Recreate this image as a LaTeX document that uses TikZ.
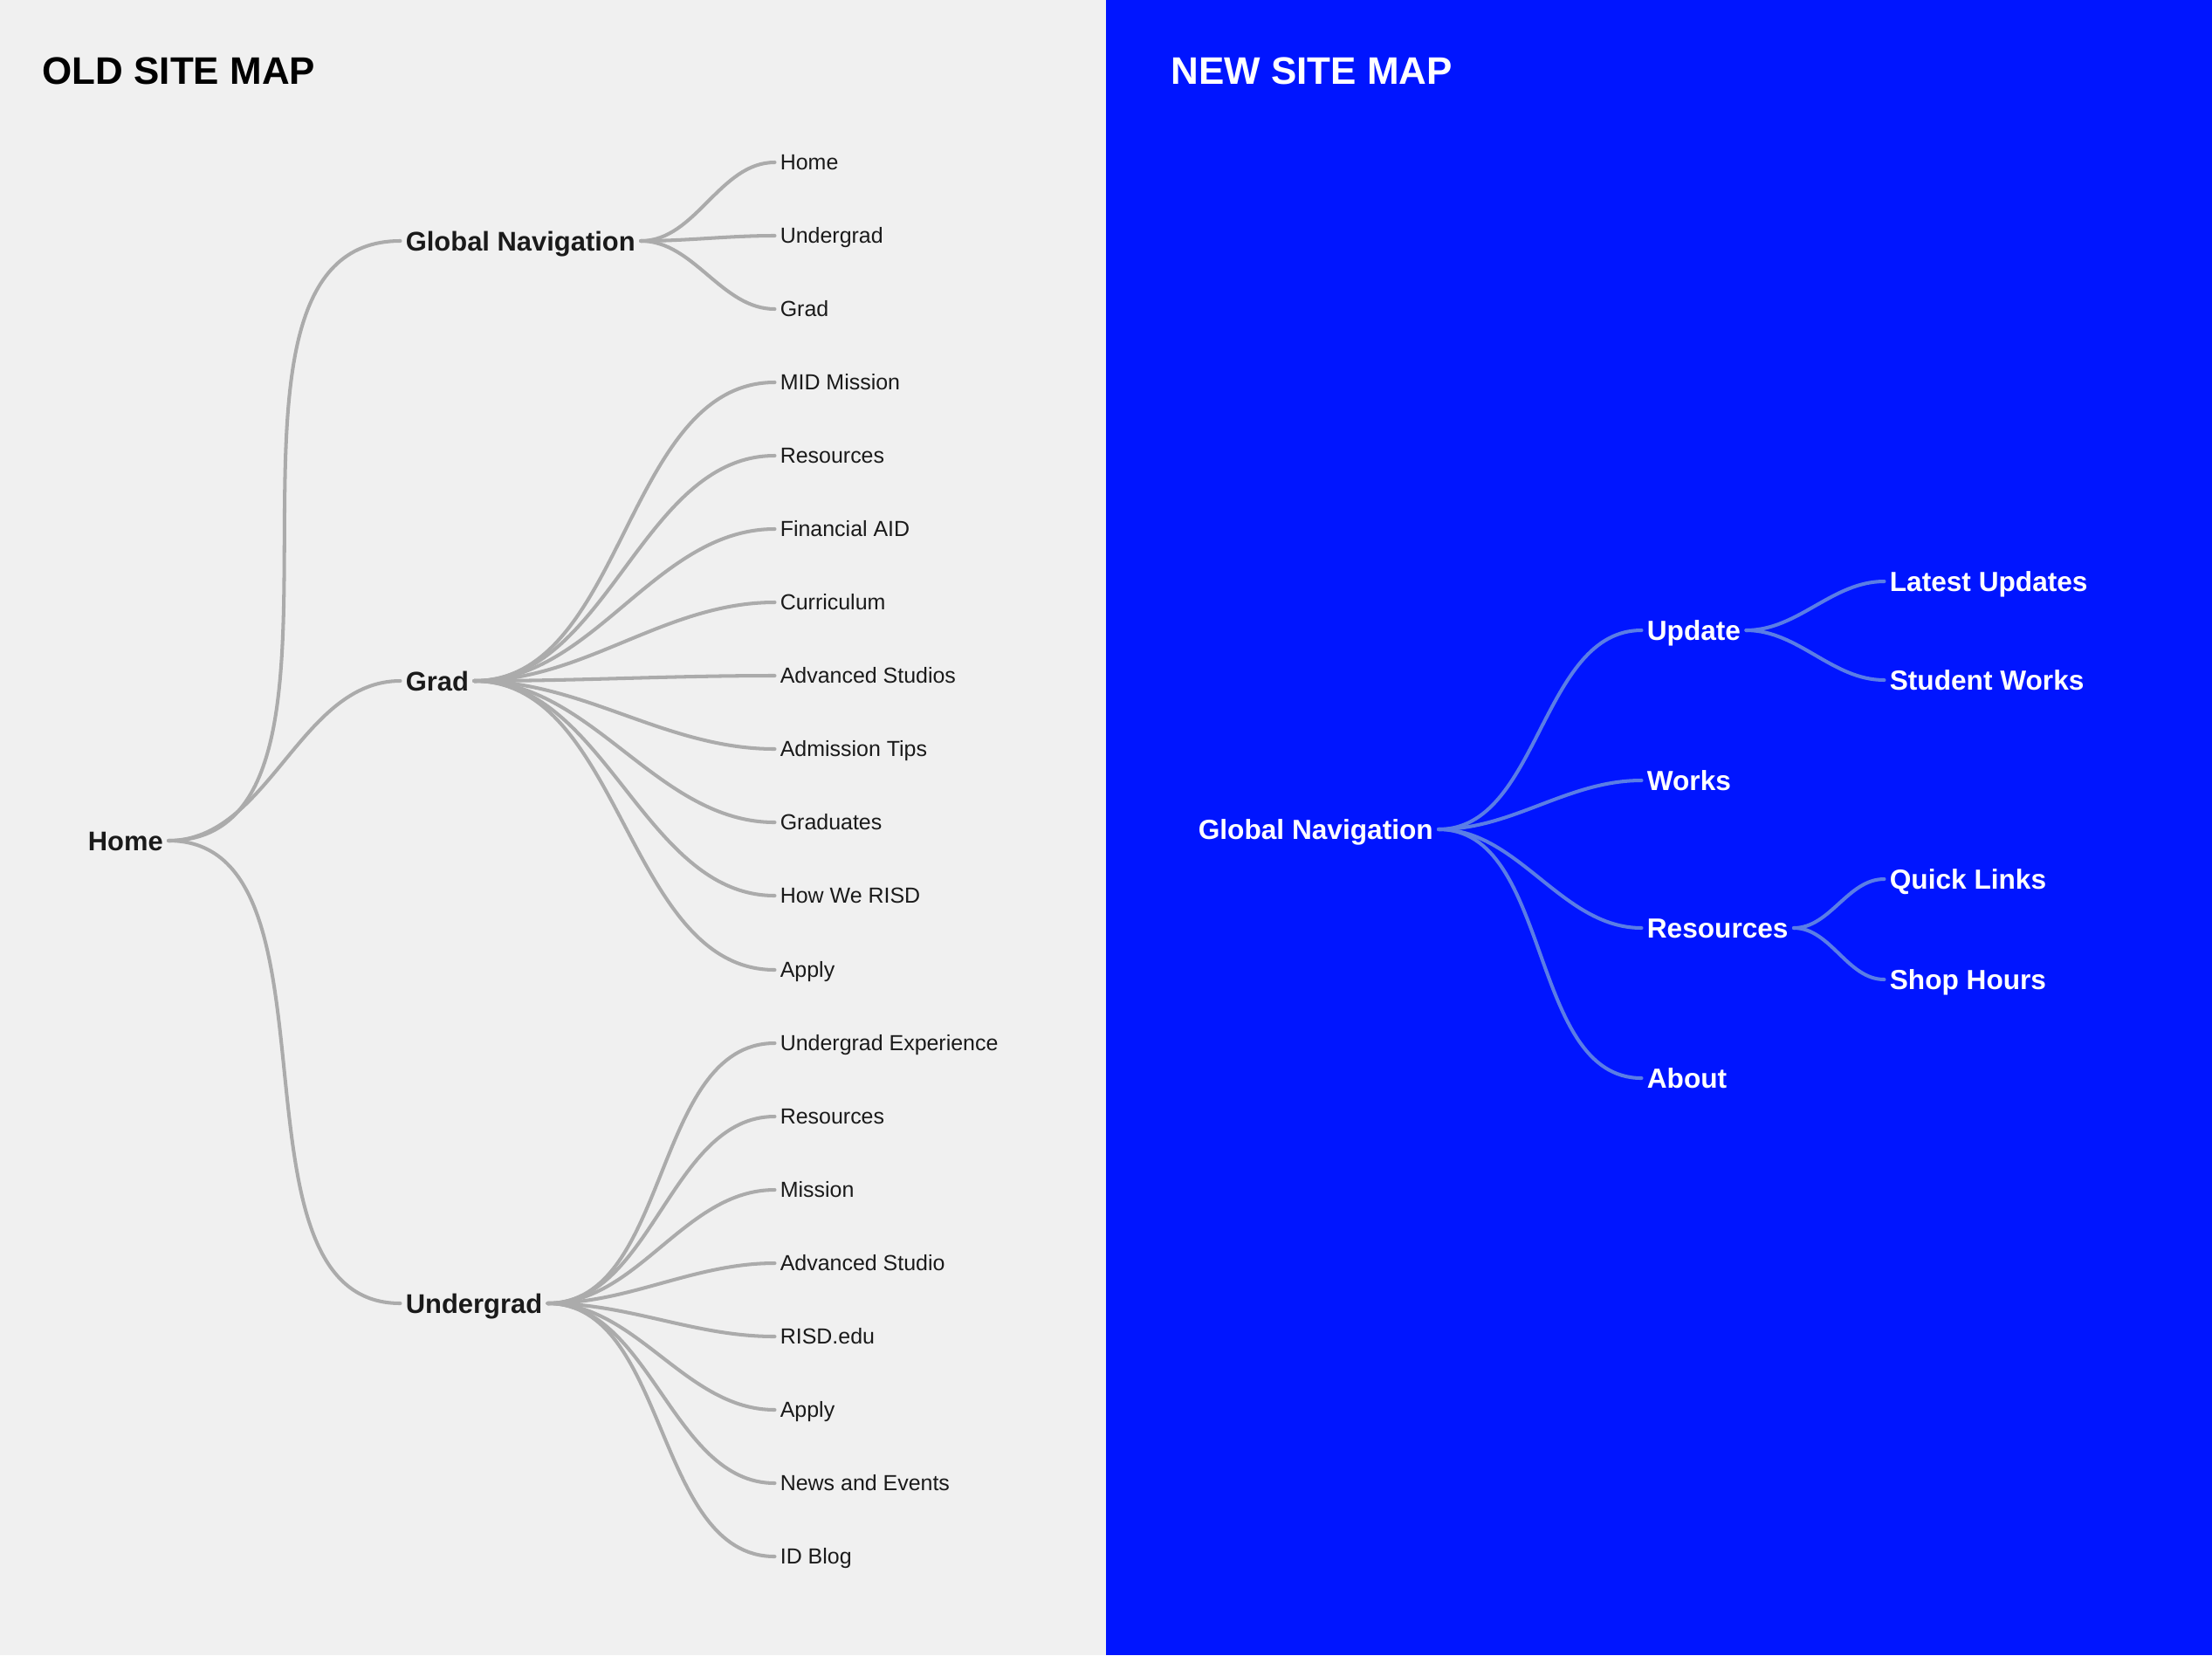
\documentclass[tikz,border=0pt]{standalone}
\usepackage{fontspec}
\setmainfont{Liberation Sans}

\definecolor{paper}{HTML}{F0F0F0}
\definecolor{ink}{HTML}{1A1A1A}
\definecolor{linkgray}{HTML}{ABABAB}
\definecolor{sitemapblue}{HTML}{0015FF}
\definecolor{linkblue}{HTML}{5A7DE6}

\tikzset{
  heading/.style={anchor=base west, inner sep=0pt, font=\bfseries\fontsize{12.5}{15}\selectfont},
  hub/.style={anchor=west, inner sep=1.6pt, text height=6.3pt, text depth=0pt,
    text=ink, font=\bfseries\fontsize{8.8}{10}\selectfont},
  page/.style={anchor=west, inner sep=1.6pt, text height=5.08pt, text depth=0pt,
    text=ink, font=\fontsize{7.1}{9}\selectfont},
  newhub/.style={anchor=west, inner sep=1.6pt, text height=6.44pt, text depth=0pt,
    text=white, font=\bfseries\fontsize{9}{11}\selectfont},
  curvy/.style={out=0, in=180, looseness=0.91},
  oldlink/.style={draw=linkgray, line width=1.15pt, line cap=round},
  newlink/.style={draw=linkblue, line width=1.15pt, line cap=round}
}

\begin{document}
\begin{tikzpicture}
        \useasboundingbox (0,0) rectangle (25.34,-18.96);

        % two panels
        \fill[paper] (0,0) rectangle (12.67,-18.96);
        \fill[sitemapblue] (12.67,0) rectangle (25.34,-18.96);

        \node[heading, text=black] (oldtitle) at (0.48,-0.965) {OLD SITE MAP};
        \node[heading, text=white] (newtitle) at (13.41,-0.965) {NEW SITE MAP};

        % old site map
        \node[hub] (home) at (0.945,-9.63) {Home};
        \node[hub] (gnav) at (4.585,-2.76) {Global Navigation};
        \node[hub] (grad) at (4.585,-7.80) {Grad};
        \node[hub] (ugrad) at (4.585,-14.93) {Undergrad};

        \node[page] (gnhome) at (8.875,-1.86) {Home};
        \node[page] (gnugrad) at (8.875,-2.70) {Undergrad};
        \node[page] (gngrad) at (8.875,-3.54) {Grad};

        \node[page] (gmission) at (8.875,-4.38) {MID Mission};
        \node[page] (gres) at (8.875,-5.22) {Resources};
        \node[page] (gaid) at (8.875,-6.06) {Financial AID};
        \node[page] (gcurr) at (8.875,-6.90) {Curriculum};
        \node[page] (gstudios) at (8.875,-7.74) {Advanced Studios};
        \node[page] (gtips) at (8.875,-8.58) {Admission Tips};
        \node[page] (ggrads) at (8.875,-9.42) {Graduates};
        \node[page] (grisd) at (8.875,-10.26) {How We RISD};
        \node[page] (gapply) at (8.875,-11.11) {Apply};

        \node[page] (uexp) at (8.875,-11.95) {Undergrad Experience};
        \node[page] (ures) at (8.875,-12.79) {Resources};
        \node[page] (umission) at (8.875,-13.63) {Mission};
        \node[page] (ustudio) at (8.875,-14.47) {Advanced Studio};
        \node[page] (uedu) at (8.875,-15.31) {RISD.edu};
        \node[page] (uapply) at (8.875,-16.15) {Apply};
        \node[page] (unews) at (8.875,-16.99) {News and Events};
        \node[page] (ublog) at (8.875,-17.83) {ID Blog};

        \draw[oldlink] (home.east) to[curvy] (gnav.west);
        \draw[oldlink] (home.east) to[curvy] (grad.west);
        \draw[oldlink] (home.east) to[curvy] (ugrad.west);

        \draw[oldlink] (gnav.east) to[curvy] (gnhome.west);
        \draw[oldlink] (gnav.east) to[curvy] (gnugrad.west);
        \draw[oldlink] (gnav.east) to[curvy] (gngrad.west);

        \draw[oldlink] (grad.east) to[curvy] (gmission.west);
        \draw[oldlink] (grad.east) to[curvy] (gres.west);
        \draw[oldlink] (grad.east) to[curvy] (gaid.west);
        \draw[oldlink] (grad.east) to[curvy] (gcurr.west);
        \draw[oldlink] (grad.east) to[curvy] (gstudios.west);
        \draw[oldlink] (grad.east) to[curvy] (gtips.west);
        \draw[oldlink] (grad.east) to[curvy] (ggrads.west);
        \draw[oldlink] (grad.east) to[curvy] (grisd.west);
        \draw[oldlink] (grad.east) to[curvy] (gapply.west);

        \draw[oldlink] (ugrad.east) to[curvy] (uexp.west);
        \draw[oldlink] (ugrad.east) to[curvy] (ures.west);
        \draw[oldlink] (ugrad.east) to[curvy] (umission.west);
        \draw[oldlink] (ugrad.east) to[curvy] (ustudio.west);
        \draw[oldlink] (ugrad.east) to[curvy] (uedu.west);
        \draw[oldlink] (ugrad.east) to[curvy] (uapply.west);
        \draw[oldlink] (ugrad.east) to[curvy] (unews.west);
        \draw[oldlink] (ugrad.east) to[curvy] (ublog.west);

        % new site map
        \node[newhub] (newnav) at (13.665,-9.50) {Global Navigation};
        \node[newhub] (update) at (18.805,-7.22) {Update};
        \node[newhub] (works) at (18.805,-8.94) {Works};
        \node[newhub] (newres) at (18.805,-10.63) {Resources};
        \node[newhub] (about) at (18.805,-12.35) {About};
        \node[newhub] (latest) at (21.585,-6.66) {Latest Updates};
        \node[newhub] (student) at (21.585,-7.79) {Student Works};
        \node[newhub] (quick) at (21.585,-10.07) {Quick Links};
        \node[newhub] (shop) at (21.585,-11.22) {Shop Hours};

        \draw[newlink] (newnav.east) to[curvy] (update.west);
        \draw[newlink] (newnav.east) to[curvy] (works.west);
        \draw[newlink] (newnav.east) to[curvy] (newres.west);
        \draw[newlink] (newnav.east) to[curvy] (about.west);
        \draw[newlink] (update.east) to[curvy] (latest.west);
        \draw[newlink] (update.east) to[curvy] (student.west);
        \draw[newlink] (newres.east) to[curvy] (quick.west);
        \draw[newlink] (newres.east) to[curvy] (shop.west);

    \end{tikzpicture}
\end{document}
